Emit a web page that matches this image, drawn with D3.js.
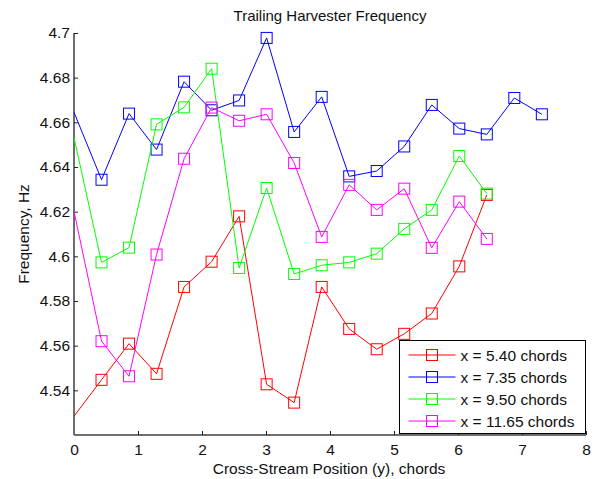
<!DOCTYPE html>
<html>
<head>
<meta charset="utf-8">
<script src="https://cdn.jsdelivr.net/npm/d3@7"></script>
<style>
  html, body { margin: 0; padding: 0; background: #fff; }
  svg { display: block; font-family: "Liberation Sans", Arial, sans-serif; }
</style>
</head>
<body>
<svg id="chart" width="600" height="479"></svg>
<script>
// Cross-stream stations (y, chords)
const positions = [0, 0.43, 0.86, 1.29, 1.72, 2.15, 2.58, 3.01, 3.44, 3.87, 4.30, 4.73, 5.16, 5.59, 6.02, 6.45, 6.88, 7.31];

// Frequency (Hz) at each station, one array per downstream location
const freqX540 = [4.5284, 4.5447, 4.5609, 4.5474, 4.5863, 4.5976, 4.6179, 4.5427, 4.5345, 4.5863, 4.5675, 4.5584, 4.5653, 4.5744, 4.5955, 4.6275];
const freqX735 = [4.6645, 4.6343, 4.6639, 4.6478, 4.6782, 4.6654, 4.6698, 4.6978, 4.6557, 4.6714, 4.6358, 4.6382, 4.6492, 4.6678, 4.6572, 4.6546, 4.6709, 4.6636];
const freqX950 = [4.6531, 4.5973, 4.6039, 4.6591, 4.6667, 4.6840, 4.5948, 4.6306, 4.5921, 4.5960, 4.5973, 4.6012, 4.6123, 4.6208, 4.6449, 4.6281];
const freqX1165 = [4.6201, 4.5620, 4.5463, 4.6008, 4.6437, 4.6666, 4.6607, 4.6636, 4.6418, 4.6087, 4.6320, 4.6208, 4.6303, 4.6038, 4.6245, 4.6078];

const seriesNames = ["x = 5.40 chords", "x = 7.35 chords", "x = 9.50 chords", "x = 11.65 chords"];
const seriesColors = ["#ff0000", "#0000ff", "#00ff00", "#ff00ff"];
const seriesValues = [freqX540, freqX735, freqX950, freqX1165];

const xTicks = [0, 1, 2, 3, 4, 5, 6, 7, 8];
const yTicks = [4.54, 4.56, 4.58, 4.6, 4.62, 4.64, 4.66, 4.68, 4.7];

const svg = d3.select("#chart");
const plot = { left: 74, right: 586, top: 33, bottom: 435 };

const x = d3.scaleLinear().domain([0, 8]).range([plot.left, plot.right]);
const y = d3.scaleLinear().domain([4.52, 4.7]).range([plot.bottom, plot.top]);

const axisColor = "#6e6e6e";
const fontSize = 15.5;

// Axes: ticks point inward, no box
const xAxis = svg.append("g")
  .attr("transform", `translate(0,${plot.bottom})`)
  .call(d3.axisBottom(x).tickValues(xTicks).tickFormat(d3.format("d")).tickSizeInner(-4).tickSizeOuter(0).tickPadding(9));
const yAxis = svg.append("g")
  .attr("transform", `translate(${plot.left},0)`)
  .call(d3.axisLeft(y).tickValues(yTicks).tickFormat(d => String(+d.toFixed(2))).tickSizeInner(-4).tickSizeOuter(0).tickPadding(4));

[xAxis, yAxis].forEach(g => {
  g.select(".domain").attr("stroke", axisColor).attr("stroke-width", 2);
  g.selectAll(".tick line").attr("stroke", "#222").attr("stroke-width", 1);
  g.selectAll(".tick text").attr("fill", "#111").attr("font-size", fontSize)
    .attr("font-family", "'Liberation Sans', Arial, sans-serif");
});
xAxis.select(".domain").attr("d", `M${plot.left},0H${plot.right}`);
yAxis.select(".domain").attr("d", `M0,${plot.bottom}V${plot.top}`);

// Title and axis labels
svg.append("text").attr("x", 330).attr("y", 21).attr("text-anchor", "middle")
  .attr("font-size", 15).attr("fill", "#111").text("Trailing Harvester Frequency");
svg.append("text").attr("x", 329).attr("y", 474).attr("text-anchor", "middle")
  .attr("font-size", fontSize).attr("fill", "#111").text("Cross-Stream Position (y), chords");
svg.append("text").attr("transform", "translate(29,234) rotate(-90)").attr("text-anchor", "middle")
  .attr("font-size", fontSize).attr("fill", "#111").text("Frequency, Hz");

// Series lines with square markers; the station on the y = 0 axis carries no marker
const line = d3.line().x(d => x(d[0])).y(d => y(d[1]));
const markerSize = 11;

seriesValues.forEach((vals, i) => {
  const pts = vals.map((v, j) => [positions[j], v]);
  const g = svg.append("g");
  g.append("path").attr("d", line(pts)).attr("fill", "none")
    .attr("stroke", seriesColors[i]).attr("stroke-width", 1);
  g.selectAll("rect").data(pts.filter(d => d[0] > 0)).join("rect")
    .attr("x", d => x(d[0]) - markerSize / 2)
    .attr("y", d => y(d[1]) - markerSize / 2)
    .attr("width", markerSize).attr("height", markerSize)
    .attr("fill", "none").attr("stroke", seriesColors[i]).attr("stroke-width", 1);
});

// Legend
const legend = svg.append("g").attr("transform", "translate(399.5,340.5)");
legend.append("rect").attr("width", 186).attr("height", 93)
  .attr("fill", "#fff").attr("stroke", "#000").attr("stroke-width", 1);
seriesNames.forEach((name, i) => {
  const ly = 14.5 + i * 22;
  const row = legend.append("g").attr("transform", `translate(0,${ly})`);
  row.append("line").attr("x1", 9).attr("x2", 56).attr("y1", 0).attr("y2", 0)
    .attr("stroke", seriesColors[i]).attr("stroke-width", 1);
  row.append("rect").attr("x", 32.5 - markerSize / 2).attr("y", -markerSize / 2)
    .attr("width", markerSize).attr("height", markerSize)
    .attr("fill", "none").attr("stroke", seriesColors[i]).attr("stroke-width", 1);
  row.append("text").attr("x", 61).attr("y", 5.5).attr("font-size", fontSize)
    .attr("fill", "#111").text(name);
});
</script>
</body>
</html>
